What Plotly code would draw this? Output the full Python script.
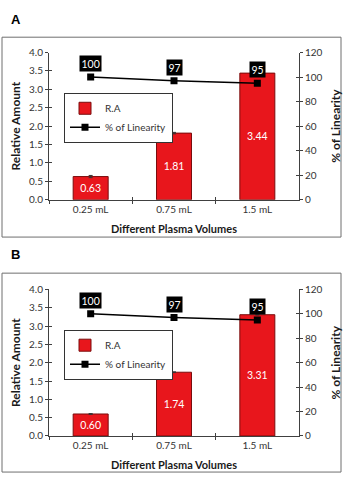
import plotly.graph_objects as go

categories = ["0.25 mL", "0.75 mL", "1.5 mL"]

ra_a = [0.63, 1.81, 3.44]
ra_a_err = [0.03, 0.02, 0.02]
lin_a = [100, 97, 95]

ra_b = [0.60, 1.74, 3.31]
ra_b_err = [0.01, 0.01, 0.01]
lin_b = [100, 97, 95]

panel_labels = ["A", "B"]

W, H = 343, 480
FONT = "Lato, Open Sans, sans-serif"
BAR_RED = "#e8161c"
BAR_EDGE = "#7a0d0d"
AXIS_COL = "#404040"


def py(px):
    return 1 - px / H


def px_x(px):
    return px / W


fig = go.Figure()

x_dom = [px_x(49), px_x(299)]
# per-panel pixel geometry: plot top/bottom, frame top/bottom, legend corner, letter row
panels = [
    dict(ra=ra_a, err=ra_a_err, lin=lin_a, top=47.7, bot=198.7, ftop=32, fbot=237,
         lx=64, ly=89, letter_y=14),
    dict(ra=ra_b, err=ra_b_err, lin=lin_b, top=290.7, bot=441, ftop=274, fbot=478,
         lx=64, ly=332, letter_y=255),
]

layout_axes = {}
shapes = []
annotations = []

for i, p in enumerate(panels):
    n = i * 6
    xa, ya, y2a = f"x{n + 1 if n else ''}", f"y{n + 1 if n else ''}", f"y{n + 2}"
    xin, yin, y2in = f"x{n + 2}", f"y{n + 3}", f"y{n + 4}"
    legend_name = "legend" if i == 0 else "legend2"
    dom_y = [py(p["bot"]), py(p["top"])]

    fig.add_trace(go.Bar(
        x=categories, y=p["ra"], name="R.A", xaxis=xa, yaxis=ya,
        marker=dict(color=BAR_RED, line=dict(color=BAR_EDGE, width=1)),
        width=0.42,
        error_y=dict(type="data", array=p["err"], color="#333333", thickness=1, width=2),
        text=p["ra"], texttemplate="%{y:.2f}", textposition="inside",
        insidetextanchor="middle", textangle=0,
        textfont=dict(color="white", size=10.5, family=FONT),
        legend=legend_name,
    ))
    fig.add_trace(go.Scatter(
        x=categories, y=p["lin"], name="% of Linearity", xaxis=xa, yaxis=y2a,
        mode="lines+markers",
        line=dict(color="black", width=1.5),
        marker=dict(symbol="square", size=7, color="black"),
        legend=legend_name,
    ))
    # invisible traces so the inner-tick overlay axes are drawn
    for ax_x, ax_y in [(xin, yin), (xin, y2in)]:
        fig.add_trace(go.Scatter(x=categories, y=[None] * 3, xaxis=ax_x, yaxis=ax_y,
                                 showlegend=False, hoverinfo="skip", mode="markers"))

    for c, v in zip(categories, p["lin"]):
        annotations.append(dict(
            x=c, y=v, xref=xa, yref=y2a, text=str(v), showarrow=False,
            yanchor="bottom", yshift=5, bgcolor="black", borderpad=1.5,
            font=dict(color="white", size=10.5, family=FONT),
        ))

    tick_font = dict(size=10, color="#333333", family=FONT)
    common = dict(showline=True, linecolor=AXIS_COL, linewidth=1, ticklen=3,
                  tickcolor=AXIS_COL, showgrid=False, zeroline=False, fixedrange=True)
    key = lambda a: ("xaxis" if a[0] == "x" else "yaxis") + a[1:]

    layout_axes[key(xa)] = dict(
        domain=x_dom, anchor=ya, type="category", range=[-0.5, 2.5],
        ticks="outside", tickson="boundaries", tickfont=tick_font,
        title=dict(text="<b>Different Plasma Volumes</b>", standoff=11,
                   font=dict(size=11, color="#1a1a1a", family=FONT)),
        **common)
    layout_axes[key(ya)] = dict(
        domain=dom_y, anchor=xa, range=[0, 4], dtick=0.5, tickformat=".1f",
        ticks="outside", tickfont=tick_font,
        title=dict(text="<b>Relative Amount</b>", standoff=5,
                   font=dict(size=12, color="#1a1a1a", family=FONT)),
        **common)
    layout_axes[key(y2a)] = dict(
        overlaying=ya, anchor=xa, side="right", range=[0, 120], dtick=20,
        ticks="outside", tickfont=tick_font,
        title=dict(text="<b>% of Linearity</b>", standoff=10,
                   font=dict(size=12, color="#1a1a1a", family=FONT)),
        **common)
    # inner halves of the crossing tick marks
    layout_axes[key(xin)] = dict(
        domain=x_dom, anchor=yin, overlaying=xa, type="category", range=[-0.5, 2.5],
        ticks="inside", tickson="boundaries", showticklabels=False, **common)
    layout_axes[key(yin)] = dict(
        domain=dom_y, anchor=xin, range=[0, 4], dtick=0.5, overlaying=ya,
        ticks="inside", showticklabels=False, **common)
    layout_axes[key(y2in)] = dict(
        overlaying=ya, anchor=xin, side="right", range=[0, 120], dtick=20,
        ticks="inside", showticklabels=False, **common)

    shapes.append(dict(type="rect", xref="paper", yref="paper",
                       x0=px_x(2), x1=px_x(341), y0=py(p["fbot"]), y1=py(p["ftop"]),
                       line=dict(color="#6f6f6f", width=1), fillcolor="rgba(0,0,0,0)",
                       layer="above"))
    annotations.append(dict(
        x=px_x(9), y=py(p["letter_y"]), xref="paper", yref="paper",
        text=f"<b>{panel_labels[i]}</b>", showarrow=False,
        xanchor="left", yanchor="middle",
        font=dict(size=13, color="black", family="Liberation Sans, Arial, sans-serif"),
    ))

legend_style = dict(bgcolor="white", bordercolor="#333333", borderwidth=1,
                    font=dict(size=10, color="#333333", family=FONT),
                    xanchor="left", yanchor="top", tracegroupgap=0, itemwidth=30)

fig.update_layout(
    width=W, height=H, margin=dict(l=0, r=0, t=0, b=0),
    paper_bgcolor="white", plot_bgcolor="white",
    showlegend=True, bargap=0.58,
    legend=dict(x=px_x(panels[0]["lx"]), y=py(panels[0]["ly"]), **legend_style),
    legend2=dict(x=px_x(panels[1]["lx"]), y=py(panels[1]["ly"]), **legend_style),
    shapes=shapes, annotations=annotations,
    **layout_axes,
)

fig.write_html("out.html")
